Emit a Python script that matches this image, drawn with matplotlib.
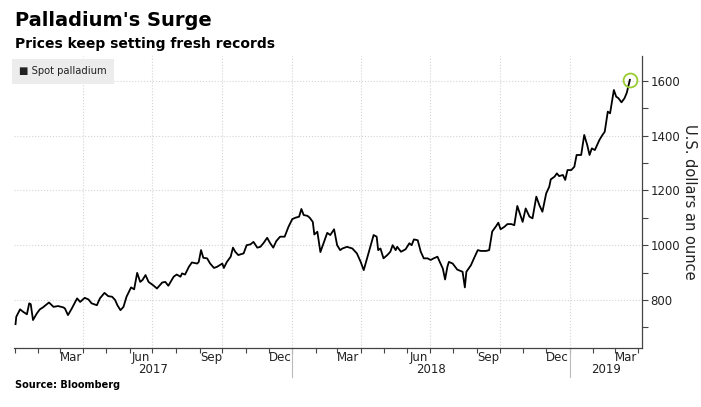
import numpy as np
import pandas as pd
import matplotlib
matplotlib.use("Agg")
import matplotlib.pyplot as plt
import matplotlib.dates as mdates

# spot palladium (USD per ounce)
dates = [
    "2017-01-02", "2017-01-03", "2017-01-08", "2017-01-12", "2017-01-17", "2017-01-20",
    "2017-01-22", "2017-01-25", "2017-01-30", "2017-02-03", "2017-02-07", "2017-02-15",
    "2017-02-21", "2017-02-27", "2017-03-06", "2017-03-08", "2017-03-12", "2017-03-17",
    "2017-03-24", "2017-03-28", "2017-04-03", "2017-04-08", "2017-04-12", "2017-04-19",
    "2017-04-23", "2017-04-29", "2017-05-04", "2017-05-09", "2017-05-13", "2017-05-16",
    "2017-05-20", "2017-05-24", "2017-05-28", "2017-06-03", "2017-06-07", "2017-06-11",
    "2017-06-15", "2017-06-18", "2017-06-22", "2017-06-26", "2017-07-02", "2017-07-07",
    "2017-07-14", "2017-07-18", "2017-07-22", "2017-07-29", "2017-08-02", "2017-08-07",
    "2017-08-09", "2017-08-13", "2017-08-18", "2017-08-22", "2017-08-29", "2017-08-31",
    "2017-09-03", "2017-09-06", "2017-09-11", "2017-09-15", "2017-09-20", "2017-09-24",
    "2017-10-01", "2017-10-03", "2017-10-07", "2017-10-12", "2017-10-15", "2017-10-18",
    "2017-10-22", "2017-10-29", "2017-11-02", "2017-11-07", "2017-11-11", "2017-11-16",
    "2017-11-20", "2017-11-24", "2017-11-29", "2017-12-03", "2017-12-07", "2017-12-11",
    "2017-12-16", "2017-12-22", "2017-12-27", "2018-01-01", "2018-01-05", "2018-01-10",
    "2018-01-13", "2018-01-16", "2018-01-21", "2018-01-24", "2018-01-28", "2018-01-30",
    "2018-02-03", "2018-02-07", "2018-02-16", "2018-02-20", "2018-02-25", "2018-03-01",
    "2018-03-05", "2018-03-08", "2018-03-14", "2018-03-21", "2018-03-27", "2018-04-01",
    "2018-04-05", "2018-04-10", "2018-04-13", "2018-04-18", "2018-04-22", "2018-04-24",
    "2018-04-27", "2018-05-01", "2018-05-06", "2018-05-10", "2018-05-13", "2018-05-17",
    "2018-05-19", "2018-05-24", "2018-05-30", "2018-06-04", "2018-06-07", "2018-06-10",
    "2018-06-15", "2018-06-19", "2018-06-23", "2018-06-28", "2018-07-02", "2018-07-06",
    "2018-07-11", "2018-07-14", "2018-07-18", "2018-07-21", "2018-07-24", "2018-07-26",
    "2018-07-31", "2018-08-06", "2018-08-13", "2018-08-16", "2018-08-18", "2018-08-24",
    "2018-08-28", "2018-09-02", "2018-09-06", "2018-09-13", "2018-09-17", "2018-09-21",
    "2018-09-26", "2018-09-29", "2018-10-02", "2018-10-07", "2018-10-11", "2018-10-16",
    "2018-10-20", "2018-10-24", "2018-10-28", "2018-10-31", "2018-11-04", "2018-11-09",
    "2018-11-13", "2018-11-18", "2018-11-22", "2018-11-26", "2018-12-01", "2018-12-05",
    "2018-12-07", "2018-12-12", "2018-12-15", "2018-12-18", "2018-12-23", "2018-12-26",
    "2018-12-29", "2019-01-03", "2019-01-07", "2019-01-10", "2019-01-16", "2019-01-20",
    "2019-01-24", "2019-01-27", "2019-01-30", "2019-02-03", "2019-02-09", "2019-02-13",
    "2019-02-16", "2019-02-20", "2019-02-23", "2019-02-28", "2019-03-03", "2019-03-06",
    "2019-03-10", "2019-03-14", "2019-03-17", "2019-03-21",
]
prices = [
    712, 739, 766, 757, 748, 788,
    785, 727, 751, 766, 773, 791,
    775, 778, 773, 769, 745, 769,
    806, 793, 808, 802, 788, 781,
    806, 826, 814, 812, 800, 781,
    763, 775, 812, 846, 839, 899,
    866, 873, 891, 866, 854, 842,
    864, 866, 852, 885, 893, 885,
    897, 893, 921, 937, 933, 939,
    982, 954, 952, 933, 917, 921,
    933, 917, 939, 958, 991, 976,
    964, 970, 1000, 1003, 1012, 991,
    994, 1007, 1027, 1007, 991, 1015,
    1031, 1031, 1067, 1095, 1100, 1104,
    1132, 1110, 1107, 1100, 1085, 1039,
    1049, 975, 1045, 1037, 1058, 1000,
    982, 988, 994, 988, 970, 939,
    909, 958, 988, 1037, 1031, 982,
    988, 952, 964, 976, 1000, 982,
    994, 976, 985, 1007, 1000, 1021,
    1018, 976, 952, 952, 946, 952,
    958, 939, 915, 875, 921, 939,
    933, 911, 903, 846, 903, 927,
    952, 982, 979, 979, 982, 1050,
    1069, 1082, 1058, 1067, 1077, 1077,
    1073, 1143, 1110, 1085, 1134, 1104,
    1098, 1177, 1146, 1122, 1189, 1213,
    1240, 1250, 1262, 1252, 1256, 1238,
    1274, 1274, 1286, 1329, 1329, 1402,
    1365, 1329, 1353, 1347, 1384, 1402,
    1414, 1487, 1481, 1566, 1542, 1536,
    1521, 1536, 1556, 1603,
]
month_labels = ["Mar", "Jun", "Sep", "Dec", "Mar", "Jun", "Sep", "Dec", "Mar"]
year_labels = ["2017", "2018", "2019"]

dates = pd.to_datetime(dates)

fig = plt.figure(figsize=(7.01, 4.07), dpi=100)
ax = fig.add_axes([14 / 701, 59 / 407, 628 / 701, 292 / 407])

ax.plot(dates, prices, color="black", lw=1.3, zorder=3)
ax.plot(dates[-1:], prices[-1:], "o", ms=10, mfc="none", mec="#9acd32", mew=1.3, zorder=4)

xmin, xmax = pd.Timestamp("2016-12-31"), pd.Timestamp("2019-04-06")
ax.set_xlim(xmin, xmax)
ax.set_ylim(625, 1690)

for s in ["top", "left"]:
    ax.spines[s].set_visible(False)
for s in ["bottom", "right"]:
    ax.spines[s].set_color("#444444")
    ax.spines[s].set_linewidth(0.9)

# y axis on the right
ax.yaxis.tick_right()
ax.yaxis.set_label_position("right")
ax.set_yticks([800, 1000, 1200, 1400, 1600])
ax.set_yticks([700, 900, 1100, 1300, 1500], minor=True)
ax.tick_params(axis="y", which="both", length=4, width=0.8, color="#444444",
               labelsize=8.5, labelcolor="#222222", pad=2)
ax.set_ylabel("U.S. dollars an ounce", rotation=270, fontsize=10.5,
              color="#222222", labelpad=12)
ax.yaxis.grid(True, which="major", ls=":", color="#d4d4d4", lw=0.8)

# x axis: month ticks, labels mid-month each quarter end
months = pd.date_range("2017-01-01", "2019-04-01", freq="MS")
ax.set_xticks(months)
ax.set_xticklabels([""] * len(months))
qmid = pd.to_datetime(["2017-03-16", "2017-06-16", "2017-09-16", "2017-12-16",
                       "2018-03-16", "2018-06-16", "2018-09-16", "2018-12-16",
                       "2019-03-16"])
ax.set_xticks(qmid, minor=True)
ax.set_xticklabels(month_labels, minor=True)
ax.tick_params(axis="x", which="major", length=3.5, width=0.8, color="#444444")
ax.tick_params(axis="x", which="minor", length=0, labelsize=8.5,
               labelcolor="#222222", pad=2)

for q in pd.date_range("2017-04-01", "2019-01-01", freq="QS"):
    ax.axvline(q, ls=":", color="#d4d4d4", lw=0.8, zorder=0)

# year labels and separators
xt = ax.get_xaxis_transform()
year_bounds = [xmin, pd.Timestamp("2018-01-01"), pd.Timestamp("2019-01-01"), xmax]
for i, yl in enumerate(year_labels):
    mid = year_bounds[i] + (year_bounds[i + 1] - year_bounds[i]) / 2
    ax.text(mid, -0.075, yl, transform=xt, ha="center", va="center",
            fontsize=8.5, color="#222222")
for b in year_bounds[1:3]:
    ax.plot([b, b], [0, -0.1], transform=xt, color="#bbbbbb", lw=0.8, clip_on=False)

# legend box
ax.text(0.008, 0.965, "\u25a0 Spot palladium", transform=ax.transAxes, ha="left", va="top",
        fontsize=7.2, color="#222222",
        bbox=dict(boxstyle="square,pad=0.75", fc="#ececec", ec="none"))

fig.text(15 / 701, 1 - 20 / 407, "Palladium's Surge", fontsize=14, fontweight="bold",
         ha="left", va="center")
fig.text(15 / 701, 1 - 44 / 407, "Prices keep setting fresh records", fontsize=10,
         fontweight="bold", ha="left", va="center")
fig.text(15 / 701, 1 - 385 / 407, "Source: Bloomberg", fontsize=7, fontweight="bold",
         ha="left", va="center")

fig.savefig("out.png", dpi=100)
